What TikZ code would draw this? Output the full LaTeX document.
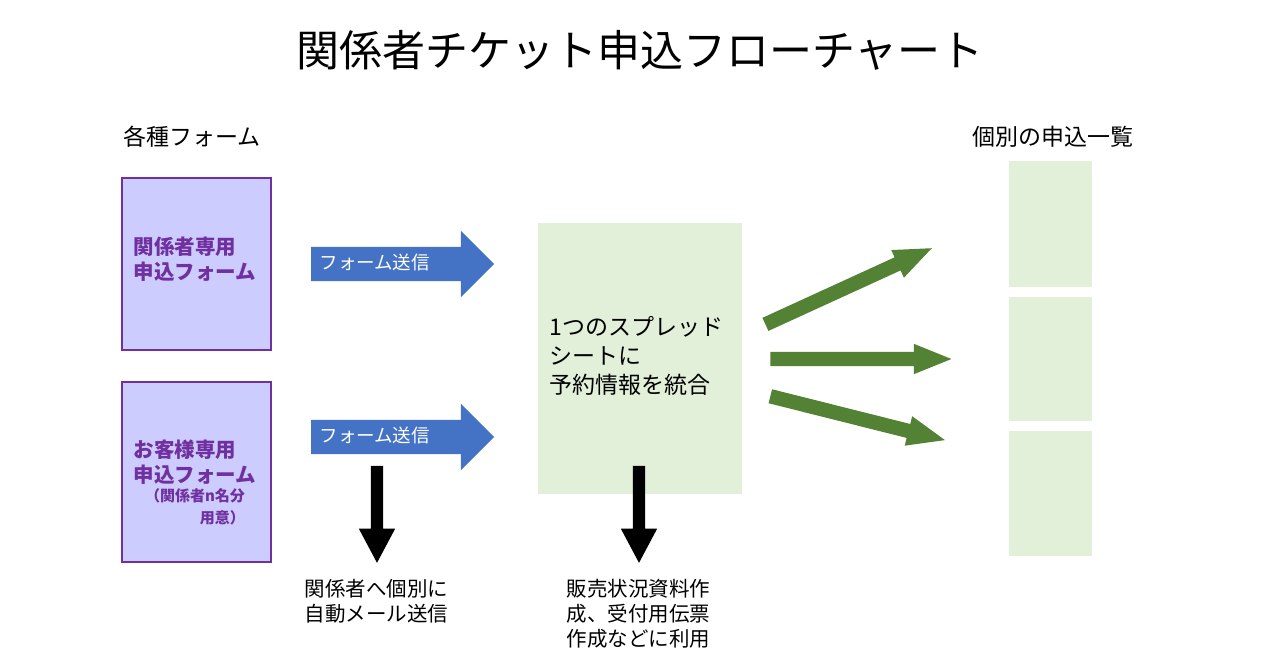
\documentclass[tikz,border=0pt]{standalone}
\usepackage{fontspec}
\setmainfont{Noto Sans CJK JP}
\usetikzlibrary{shapes.arrows}
\definecolor{purp}{HTML}{7030A0}
\definecolor{lav}{HTML}{CCCCFF}
\definecolor{lgreen}{HTML}{E2EFD9}
\definecolor{dgreen}{HTML}{548235}
\definecolor{blu}{HTML}{4472C4}
\begin{document}
\begin{tikzpicture}[x=1pt,y=-1pt,
  form/.style={draw=purp,line width=1.5pt,fill=lav,minimum width=149pt,minimum height=172pt,inner sep=0pt},
  formtxt/.style={text=purp,font=\bfseries\fontsize{20.5}{25}\selectfont,align=left,anchor=west},
  blk/.style={single arrow,draw=none,inner sep=0pt,anchor=center},
  bluearrow/.style={blk,fill=blu,inner ysep=17pt,single arrow head extend=16pt,minimum height=183pt},
  greenarrow/.style={blk,fill=dgreen,inner ysep=7pt,single arrow head extend=8pt,single arrow tip angle=44},
  blackarrow/.style={blk,fill=black,inner ysep=6pt,single arrow head extend=12pt,single arrow tip angle=56,minimum height=97pt},
  lbl/.style={font=\fontsize{20.5}{25}\selectfont,align=left},
  gbox/.style={fill=lgreen,draw=none,inner sep=0pt}]
\useasboundingbox (0,0) rectangle (1280,670);
\node (title) at (640,50) {\fontsize{43}{50}\selectfont 関係者チケット申込フローチャート};
\node[lbl,font=\fontsize{23}{28}\selectfont] (lt) at (192,137) {各種フォーム};
\node[lbl,font=\fontsize{23}{28}\selectfont] (rt) at (1053,137) {個別の申込一覧};
\node[form] (f1) at (196.5,264) {};
\node[form,minimum height=180pt] (f2) at (196.5,472) {};
\node[formtxt] (t1) at (130,259) {関係者専用\\申込フォーム};
\node[formtxt] (t2) at (130,462) {お客様専用\\申込フォーム};
\node[text=purp,font=\bfseries\fontsize{15}{22}\selectfont,align=right] (t3) at (195,507) {（関係者n名分\\用意）};
\node[bluearrow] (a1) at (394,264) {};
\node[bluearrow] (a2) at (394,437) {};
\node[anchor=west,text=white,font=\fontsize{18.5}{22}\selectfont] (a1t) at (316,262) {フォーム送信};
\node[anchor=west,text=white,font=\fontsize{18.5}{22}\selectfont] (a2t) at (316,435) {フォーム送信};
\node[gbox,minimum width=204pt,minimum height=271pt] (c) at (640,358.5) {};
\node[anchor=west,font=\fontsize{23}{29}\selectfont,align=left] (ct) at (546,356) {1つのスプレッド\\シートに\\予約情報を統合};
\node[gbox,minimum width=83pt,minimum height=126pt] (r1) at (1050.5,224) {};
\node[gbox,minimum width=83pt,minimum height=124pt] (r2) at (1050.5,359) {};
\node[gbox,minimum width=83pt,minimum height=125pt] (r3) at (1050.5,493.5) {};
\node[greenarrow,minimum height=183pt,rotate=24.6] (g1) at (840.5,290) {};
\node[greenarrow,minimum height=181pt] (g2) at (852,359) {};
\node[greenarrow,minimum height=180pt,rotate=-14.1] (g3) at (849,416) {};
\node[blackarrow,rotate=-90] (b1) at (377,508.5) {};
\node[blackarrow,rotate=-90] (b2) at (639,508.5) {};
\node[lbl,anchor=north west] (bl1) at (301,576) {関係者へ個別に\\自動メール送信};
\node[lbl,anchor=north west] (bl2) at (563,576) {販売状況資料作\\成、受付用伝票\\作成などに利用};
\end{tikzpicture}
\end{document}
